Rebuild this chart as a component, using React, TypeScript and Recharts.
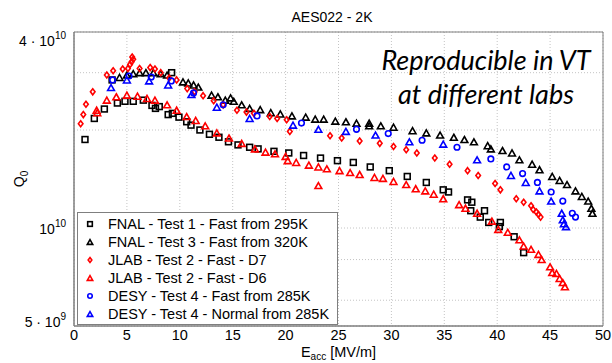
import React from 'react';
import {
  ScatterChart, Scatter, XAxis, YAxis, CartesianGrid, ReferenceArea, Legend,
} from 'recharts';

// E_acc [MV/m], Q0 [1e10]
const fnalTest1: [number, number][] = [
  [1.04, 1.87], [1.92, 2.17], [2.87, 2.32], [3.6, 2.85], [4.1, 2.42], [4.82, 2.45], [5.6, 2.45],
  [6.55, 2.47], [7.37, 2.38], [7.7, 2.33], [8.06, 2.36], [8.9, 2.23], [9.23, 3.0], [9.3, 2.25],
  [9.92, 2.19], [10.65, 2.12], [11.06, 2.07], [11.9, 2.0], [12.8, 1.94], [13.7, 1.9], [14.6, 1.84],
  [15.5, 1.8], [16.6, 1.77], [17.4, 1.75], [18.9, 1.72], [20.3, 1.7], [21.7, 1.67], [23.3, 1.64],
  [24.9, 1.61], [26.4, 1.59], [28.0, 1.54], [29.8, 1.5], [31.5, 1.44], [33.3, 1.38], [34.9, 1.31],
  [35.4, 1.29], [37.2, 1.22], [37.6, 1.2], [37.5, 1.13], [38.4, 1.08], [38.8, 1.13], [39.2, 1.04],
  [40.3, 1.04], [40.2, 1.01], [41.6, 0.94], [42.5, 0.84],
];

const fnalTest3: [number, number][] = [
  [4.3, 2.9], [5.0, 2.95], [5.6, 2.98], [6.2, 3.0], [6.8, 3.0], [7.5, 3.0], [8.2, 2.98], [8.8, 2.95],
  [10.3, 2.81], [10.8, 2.79], [11.3, 2.75], [11.75, 2.71], [13.0, 2.56], [13.6, 2.53], [14.3, 2.47],
  [14.8, 2.51], [15.1, 2.45], [15.85, 2.39], [16.6, 2.33], [17.6, 2.31], [18.6, 2.26], [19.5, 2.24],
  [20.6, 2.21], [21.9, 2.19], [22.8, 2.16], [23.6, 2.16], [24.7, 2.13], [25.7, 2.12], [26.7, 2.1],
  [27.9, 2.1], [27.9, 2.06], [29.0, 2.06], [30.2, 2.04], [32.0, 1.99], [33.3, 1.96], [34.6, 1.93],
  [35.9, 1.9], [36.9, 1.87], [37.8, 1.84], [39.1, 1.79], [39.4, 1.75], [40.5, 1.73], [41.4, 1.7],
  [42.1, 1.62], [43.3, 1.57], [44.0, 1.51], [45.2, 1.44], [45.9, 1.4], [46.6, 1.36], [47.4, 1.3],
  [48.0, 1.25], [48.6, 1.21], [48.9, 1.15], [49.0, 1.11],
];

const jlabD7: [number, number][] = [
  [0.63, 2.09], [0.88, 2.23], [1.13, 2.4], [1.77, 2.62], [3.1, 2.95], [3.7, 3.04], [4.6, 3.08],
  [5.1, 3.09], [5.3, 3.18], [5.45, 3.24], [5.5, 3.35], [5.6, 3.3], [6.2, 3.09], [7.2, 3.11],
  [7.65, 3.08], [8.2, 3.0], [9.0, 2.89], [9.7, 2.85], [10.7, 2.68], [11.4, 2.62], [12.2, 2.55],
  [13.2, 2.46], [14.1, 2.39], [15.4, 2.3], [16.3, 2.27], [17.0, 2.25], [18.5, 2.2], [19.2, 2.17],
  [20.1, 2.15], [20.4, 1.98], [24.2, 1.92], [25.3, 1.89], [27.0, 1.85], [28.9, 1.82], [30.2, 1.78],
  [31.4, 1.74], [32.4, 1.7], [34.1, 1.64], [35.5, 1.57], [37.2, 1.5], [38.2, 1.45], [39.8, 1.37],
  [40.3, 1.31], [41.8, 1.23], [42.5, 1.2], [43.2, 1.17], [43.4, 1.14], [43.7, 1.12], [43.9, 1.1],
  [44.1, 1.08],
];

const jlabD6: [number, number][] = [
  [2.14, 2.3], [2.2, 2.26], [3.1, 2.47], [4.0, 2.53], [5.0, 2.56], [6.0, 2.54], [6.9, 2.5],
  [7.65, 2.47], [8.8, 2.39], [9.7, 2.3], [10.65, 2.2], [11.5, 2.14], [12.4, 2.06], [13.5, 1.96],
  [14.65, 1.89], [15.85, 1.82], [17.1, 1.75], [18.1, 1.71], [19.0, 1.69], [20.0, 1.66], [20.2, 1.61],
  [21.0, 1.59], [22.2, 1.56], [23.1, 1.54], [23.9, 1.52], [23.1, 1.35], [25.1, 1.5], [26.1, 1.48],
  [27.0, 1.46], [28.4, 1.43], [29.2, 1.42], [30.2, 1.39], [31.4, 1.36], [32.3, 1.32], [33.2, 1.3],
  [34.0, 1.27], [34.9, 1.23], [36.4, 1.18], [37.0, 1.15], [38.1, 1.11], [39.5, 1.05], [40.1, 0.99],
  [41.0, 0.97], [42.1, 0.92], [42.5, 0.88], [43.2, 0.86], [43.9, 0.83], [44.2, 0.8], [45.0, 0.76],
  [45.2, 0.73], [45.6, 0.725], [45.9, 0.7], [46.2, 0.68], [46.4, 0.66],
];

const desyFast: [number, number][] = [
  [3.65, 2.85], [5.2, 2.93], [7.3, 2.91], [9.2, 2.83], [11.3, 2.6], [14.1, 2.39], [17.3, 2.21],
  [21.5, 2.1], [26.7, 2.01], [29.7, 1.95], [32.9, 1.86], [36.2, 1.77], [39.4, 1.63], [40.9, 1.54],
  [42.4, 1.47], [43.8, 1.38], [45.1, 1.29], [46.2, 1.21], [47.1, 1.11], [47.4, 1.08],
];

const desyNormal: [number, number][] = [
  [3.5, 2.7], [5.0, 2.85], [7.1, 2.83], [8.9, 2.75], [11.1, 2.57], [13.5, 2.35], [16.6, 2.17],
  [20.7, 2.07], [23.1, 2.01], [25.7, 1.98], [28.5, 1.93], [31.7, 1.84], [34.9, 1.81], [38.1, 1.62],
  [41.3, 1.45], [42.7, 1.38], [44.0, 1.3], [45.1, 1.21], [46.1, 1.11], [46.2, 1.06], [46.3, 1.03],
  [46.5, 1.01],
];

const xTicks = [0, 5, 10, 15, 20, 25, 30, 35, 40, 45, 50];
const yTicks = [5e9, 6e9, 7e9, 8e9, 9e9, 1e10, 2e10, 3e10, 4e10];

const toPoints = (arr: [number, number][]) => arr.map(([e, q]) => ({ e, q: q * 1e10 }));

type Marker = 'square' | 'triangle' | 'diamond' | 'circle';

function MarkerShape({ kind, cx, cy, color, s = 1 }: { kind: Marker; cx: number; cy: number; color: string; s?: number }) {
  const sw = 1.6;
  if (kind === 'square') {
    const h = 2.9 * s;
    return <rect x={cx - h} y={cy - h} width={2 * h} height={2 * h} fill="none" stroke={color} strokeWidth={sw} />;
  }
  if (kind === 'triangle') {
    const w = 3.4 * s;
    const h = 3.0 * s;
    return <polygon points={`${cx},${cy - h} ${cx + w},${cy + h} ${cx - w},${cy + h}`} fill="none" stroke={color} strokeWidth={sw} />;
  }
  if (kind === 'diamond') {
    const w = 2.3 * s;
    const h = 3.0 * s;
    return <polygon points={`${cx},${cy - h} ${cx + w},${cy} ${cx},${cy + h} ${cx - w},${cy}`} fill="none" stroke={color} strokeWidth={sw} />;
  }
  return <circle cx={cx} cy={cy} r={2.8 * s} fill="none" stroke={color} strokeWidth={sw} />;
}

const series: { name: string; data: [number, number][]; kind: Marker; color: string }[] = [
  { name: 'FNAL - Test 1 - Fast from 295K', data: fnalTest1, kind: 'square', color: '#000000' },
  { name: 'FNAL - Test 3 - Fast from 320K', data: fnalTest3, kind: 'triangle', color: '#000000' },
  { name: 'JLAB - Test 2 - Fast - D7', data: jlabD7, kind: 'diamond', color: '#ff0000' },
  { name: 'JLAB - Test 2 - Fast - D6', data: jlabD6, kind: 'triangle', color: '#ff0000' },
  { name: 'DESY - Test 4 - Fast from 285K', data: desyFast, kind: 'circle', color: '#0000ff' },
  { name: 'DESY - Test 4 - Normal from 285K', data: desyNormal, kind: 'triangle', color: '#0000ff' },
];

const FONT = '"Liberation Sans", Arial, sans-serif';

function YTick(props: any) {
  const { x, y, payload } = props;
  const v = payload.value;
  const style = { fontFamily: FONT, fontSize: 14, fill: '#000' };
  if (v === 4e10) {
    return (
      <text x={x} y={y + 14} textAnchor="end" style={style}>
        <tspan>4 · 10</tspan><tspan dy={-7} fontSize={10}>10</tspan>
      </text>
    );
  }
  if (v === 1e10) {
    return (
      <text x={x} y={y + 6} textAnchor="end" style={style}>
        <tspan>10</tspan><tspan dy={-7} fontSize={10}>10</tspan>
      </text>
    );
  }
  if (v === 5e9) {
    return (
      <text x={x} y={y + 1} textAnchor="end" style={style}>
        <tspan>5 · 10</tspan><tspan dy={-7} fontSize={10}>9</tspan>
      </text>
    );
  }
  return null;
}

function LegendBox() {
  return (
    <div style={styles.legend}>
      {series.map((s) => (
        <div key={s.name} style={styles.legendRow}>
          <svg width={14} height={18} style={{ flex: 'none' }}>
            <MarkerShape kind={s.kind} cx={6} cy={9} color={s.color} s={0.8} />
          </svg>
          <span style={{ marginLeft: 10 }}>{s.name}</span>
        </div>
      ))}
    </div>
  );
}

export default function App() {
  return (
    <div style={styles.page}>
      <ScatterChart width={612} height={363} margin={{ top: 32, right: 9, bottom: 0, left: 0 }}>
        <CartesianGrid stroke="#c4c4c4" strokeDasharray="1 2" />
        <ReferenceArea x1={0} x2={50} y1={5e9} y2={4e10} fill="none" stroke="#7f7f7f" strokeWidth={1} />
        <XAxis
          type="number"
          dataKey="e"
          domain={[0, 50]}
          ticks={xTicks}
          height={37}
          tickLine={false}
          axisLine={{ stroke: '#7f7f7f' }}
          tick={{ fill: '#000', fontSize: 14.5, fontFamily: FONT }}
          tickMargin={0}
          tickSize={4}
          label={{
            content: (p: any) => {
              const vb = p.viewBox;
              return (
                <text x={vb.x + vb.width / 2} y={vb.y + 31} textAnchor="middle" style={{ fontFamily: FONT, fontSize: 14.5 }}>
                  <tspan>E</tspan><tspan dy={3} fontSize={10}>acc</tspan><tspan dy={-3}> [MV/m]</tspan>
                </text>
              );
            },
          }}
        />
        <YAxis
          type="number"
          dataKey="q"
          scale="log"
          domain={[5e9, 4e10]}
          allowDataOverflow
          ticks={yTicks}
          width={74}
          tickLine={false}
          axisLine={{ stroke: '#7f7f7f' }}
          tick={<YTick />}
          label={{
            content: (p: any) => {
              const vb = p.viewBox;
              const cx = vb.x + 24;
              const cy = vb.y + vb.height / 2;
              return (
                <text x={cx} y={cy} textAnchor="middle" transform={`rotate(-90, ${cx}, ${cy})`} style={{ fontFamily: FONT, fontSize: 14 }}>
                  <tspan>Q</tspan><tspan dy={4} fontSize={10}>0</tspan>
                </text>
              );
            },
          }}
        />
        {series.map((s) => (
          <Scatter
            key={s.name}
            name={s.name}
            data={toPoints(s.data)}
            isAnimationActive={false}
            shape={(p: any) => <MarkerShape kind={s.kind} cx={p.cx} cy={p.cy} color={s.color} />}
          />
        ))}
        <Legend
          layout="horizontal"
          verticalAlign="middle"
          align="center"
          wrapperStyle={{ left: 77, top: 212, width: 261, height: 113 }}
          content={() => <LegendBox />}
        />
      </ScatterChart>
      <div style={styles.title}>AES022 - 2K</div>
      <div style={styles.note}>
        Reproducible in VT<br />at different labs
      </div>
    </div>
  );
}

const styles: Record<string, React.CSSProperties> = {
  page: {
    position: 'fixed',
    left: 0,
    top: 0,
    width: 612,
    height: 363,
    background: '#fff',
    overflow: 'hidden',
  },
  title: {
    position: 'absolute',
    left: 232,
    top: 9,
    width: 200,
    textAlign: 'center',
    fontFamily: FONT,
    fontSize: 14,
    color: '#000',
  },
  note: {
    position: 'absolute',
    left: 361,
    top: 43,
    width: 250,
    textAlign: 'center',
    fontFamily: 'Lato, "Open Sans", sans-serif',
    fontStyle: 'italic',
    fontSize: 27,
    lineHeight: '34px',
    color: '#000',
  },
  legend: {
    boxSizing: 'border-box',
    width: 261,
    height: 113,
    background: '#fff',
    border: '1px solid #7f7f7f',
    padding: '2px 0 0 6px',
    fontFamily: FONT,
    fontSize: 14.5,
    color: '#000',
  },
  legendRow: {
    display: 'flex',
    alignItems: 'center',
    height: 18,
    lineHeight: '18px',
    whiteSpace: 'nowrap',
  },
};
